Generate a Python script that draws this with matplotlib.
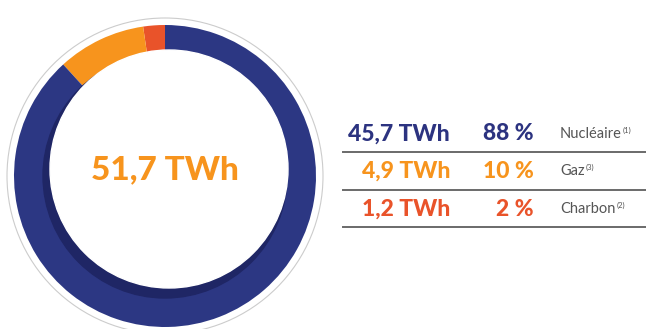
import matplotlib.pyplot as plt
from matplotlib.patches import Circle

# data
sources = ['Nucléaire', 'Gaz', 'Charbon']
notes = ['(1)', '(3)', '(2)']
twh = [45.7, 4.9, 1.2]
pct = [88, 10, 2]
total = 51.7
colors = ['#2c3783', '#f7941d', '#e9532a']

W, H = 646, 329
FONT = ['Lato', 'DejaVu Sans']
fig = plt.figure(figsize=(W / 100, H / 100), dpi=100)
ax = fig.add_axes([0, 0, 1, 1])

def fmt(v):
    return ('%.1f' % v).replace('.', ',')

cx, cy, r, w = 165, H - 176, 151, 30

# thin grey outer ring
ax.add_patch(Circle((cx, cy), r + 7, fill=False, ec='#cccccc', lw=0.8))

# donut: counter-clockwise from top -> charbon, gaz, nucleaire
order = [2, 1, 0]
ax.pie([twh[i] for i in order], colors=[colors[i] for i in order],
       center=(cx, cy), radius=r, startangle=90, counterclock=True,
       wedgeprops=dict(width=w, linewidth=0), frame=True)
ax.set_xlim(0, W)
ax.set_ylim(0, H)
ax.set_aspect('equal')
ax.axis('off')

# inner shadow
ax.add_patch(Circle((cx, cy), r - w + 1, color='#1f2665', zorder=3))
ax.add_patch(Circle((cx + 4, cy + 7), r - w - 2, color='white', zorder=4))

ax.text(cx, H - 170, fmt(total) + ' TWh', color='#f7941d', fontsize=24,
        fontweight='black', ha='center', va='center', family=FONT, zorder=5)

# table
rows_y = [134, 171, 209]
lines_y = [152, 190, 227]
text_colors = ['#2c3380', '#f7941d', '#e9532a']
for i in range(3):
    y = H - rows_y[i]
    ax.text(450, y, fmt(twh[i]) + ' TWh', color=text_colors[i], fontsize=16.5,
            fontweight='black', ha='right', va='center', family=FONT)
    ax.text(534, y, '%d %%' % pct[i], color=text_colors[i], fontsize=16.5,
            fontweight='black', ha='right', va='center', family=FONT)
    t = ax.text(560, y, sources[i], color='#555555', fontsize=10.5,
                ha='left', va='center', family=FONT)
    fig.canvas.draw()
    bb = t.get_window_extent()
    ax.text(bb.x1 + 1, y + 4, notes[i], color='#555555', fontsize=5.5,
            ha='left', va='center', family=FONT)
    ax.plot([343, W], [H - lines_y[i]] * 2, color='#6a6a6a', lw=1.4)

fig.savefig('out.png', dpi=100)
